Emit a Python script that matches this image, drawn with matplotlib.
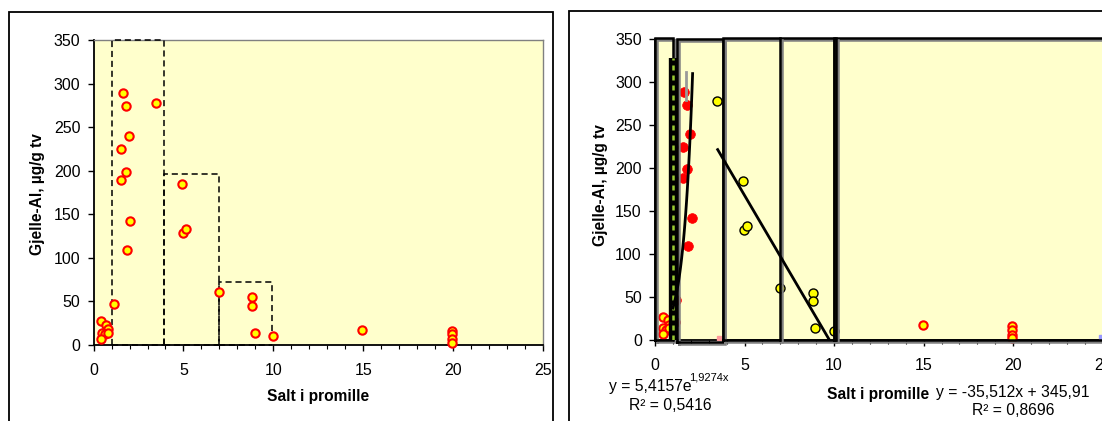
import numpy as np
import matplotlib
matplotlib.use("Agg")
import matplotlib.pyplot as plt
from matplotlib.patches import Rectangle
from matplotlib.ticker import MultipleLocator
import matplotlib.patheffects as pe

plt.rcParams['font.family'] = ['Liberation Sans', 'DejaVu Sans']

# ---------------- data ----------------
low_x = [0.42, 0.70, 0.80, 0.45, 0.62, 0.42, 0.78]
low_y = [27, 23, 18, 14, 12, 7, 14]

a_x = [1.15, 1.63, 1.79, 1.95, 1.55, 1.79, 1.55, 2.05, 1.87]
a_y = [47, 289, 274, 240, 225, 199, 189, 142, 109]
a_extra_x = [1.12]
a_extra_y = [21]

b_x = [3.48, 4.91, 4.99, 5.15, 6.98, 8.80, 8.80, 8.96, 10.0]
b_y = [278, 185, 128, 133, 61, 55, 45, 14, 10]

c_x = [14.94, 19.95, 19.95, 19.95, 19.95]
c_y = [17, 16, 12, 6, 2]

# dashed groups in left chart: (x0, x1, top)
left_boxes = [(1.0, 3.9, 350), (3.9, 7.0, 196), (7.0, 9.9, 72)]
# boxes in right chart: (x0, x1, bottom, top)
right_boxes = [(0.0, 1.02, 0, 352), (1.22, 3.82, -2, 350), (3.82, 10.0, 0, 352), (10.0, 26.0, 0, 352)]
right_vlines = [6.97, 10.1]

exp_a, exp_b = 5.4157, 1.9274
exp_range = (1.0, 2.1)
lin_m, lin_c = -35.512, 345.91
lin_range = (3.5, 9.74)

xticks = [0, 5, 10, 15, 20, 25]
yticks = [0, 50, 100, 150, 200, 250, 300, 350]

W, H = 1102, 421
fig = plt.figure(figsize=(W / 100, H / 100), dpi=100)
fig.patch.set_facecolor('white')

def fx(px):
    return px / W

def fy(py):
    return 1 - py / H

# panel frames
fig.patches.append(Rectangle((fx(8.6), fy(460)), fx(552.9 - 8.6), (460 - 12) / H,
                             transform=fig.transFigure, fill=False, ec='black', lw=1.3))
fig.patches.append(Rectangle((fx(569.3), fy(460)), fx(700), (460 - 10.7) / H,
                             transform=fig.transFigure, fill=False, ec='black', lw=1.3))

BG = '#FFFFCC'
TICKFS = 11.5
LABFS = 11.2
ANNFS = 11.3

def style_axes(ax):
    ax.set_xlim(0, 25)
    ax.set_ylim(0, 350)
    ax.set_facecolor(BG)
    ax.set_xticks(xticks)
    ax.set_yticks(yticks)
    ax.xaxis.set_minor_locator(MultipleLocator(1))
    ax.tick_params(axis='x', which='major', direction='out', length=4, width=1, pad=9, labelsize=TICKFS)
    ax.tick_params(axis='x', which='minor', direction='out', length=3, width=0.8)
    ax.tick_params(axis='y', which='major', direction='out', length=4, width=1, pad=5.5, labelsize=TICKFS)
    for s in ['left', 'bottom']:
        ax.spines[s].set_color('black')
        ax.spines[s].set_linewidth(1.3)
    for s in ['top', 'right']:
        ax.spines[s].set_color('#808080')
        ax.spines[s].set_linewidth(1.0)

# ---------------- left chart ----------------
ax1 = fig.add_axes([fx(93.6), fy(344.7), fx(542.9 - 93.6), (344.7 - 40.3) / H])
style_axes(ax1)
for x0, x1, top in left_boxes:
    ax1.plot([x0, x0, x1, x1], [0, top, top, 0], ls=(0, (4, 2.5)), color='black', lw=1.1,
             clip_on=False, zorder=3)
    ax1.plot([x0, x1], [0, 0], ls=(0, (4, 2.5)), color='black', lw=1.1, clip_on=False, zorder=3)

all_x = low_x + a_x + b_x + c_x
all_y = low_y + a_y + b_y + c_y
ax1.plot(all_x, all_y, 'o', ms=6, mfc='#FFFF00', mec='#FF0000', mew=1.5, clip_on=False, zorder=5)

fig.text(fx(37.5), fy(194), 'Gjelle-Al, µg/g tv', rotation=90, ha='center', va='center',
         fontsize=LABFS, fontweight='bold')
fig.text(fx(318.5), fy(396), 'Salt i promille', ha='center', va='center', fontsize=LABFS, fontweight='bold')

# ---------------- right chart ----------------
ax2 = fig.add_axes([fx(655), fy(340), fx(447.7), (340 - 39.3) / H])
style_axes(ax2)

shadow = [pe.SimpleLineShadow(offset=(1.5, -1.5), shadow_color='#808080', alpha=1.0), pe.Normal()]

ax2.plot(low_x + c_x, low_y + c_y, 'o', ms=6, mfc='#FFFF00', mec='#FF0000', mew=1.5,
         clip_on=False, zorder=3)
ax2.plot(a_x + a_extra_x, a_y + a_extra_y, 'o', ms=7, mfc='#FF0000', mec='#FF0000', mew=0.5,
         clip_on=False, zorder=3)
ax2.plot(b_x, b_y, 'o', ms=6.5, mfc='#FFFF00', mec='#000000', mew=1.0, clip_on=False, zorder=3)

for x0, x1, y0, y1 in right_boxes:
    ax2.plot([x0, x0, x1, x1, x0], [y0, y1, y1, y0, y0], color='black', lw=1.8,
             clip_on=False, zorder=4, path_effects=shadow, solid_joinstyle='miter')
for xv in right_vlines:
    ax2.plot([xv, xv], [0, 352], color='black', lw=1.8, clip_on=False, zorder=4, path_effects=shadow)

# thick dotted vertical line near x=1
ax2.plot([1.0, 1.0], [0, 328], color='black', lw=6, zorder=5, solid_capstyle='butt')
ax2.plot([1.0, 1.0], [0, 328], color='#9ACD32', lw=1.8, ls=(0, (2, 2)), zorder=6)

# trend lines (from the equations shown)
xe = np.linspace(exp_range[0], exp_range[1], 60)
ax2.plot(xe, exp_a * np.exp(exp_b * xe), color='black', lw=2, zorder=7)
ax2.plot([1.74, 1.74], [279, 312], color='#999999', lw=2, zorder=6)
xl = np.array(lin_range)
ax2.plot(xl, lin_m * xl + lin_c, color='black', lw=2, zorder=7)

# small stray markers
ax2.plot([3.57], [2], 's', ms=3, mfc='#FF9999', mec='#FF9999', clip_on=False, zorder=3)
ax2.plot([24.9], [4], 's', ms=3, mfc='#9999FF', mec='#9999FF', clip_on=False, zorder=3)

fig.text(fx(600), fy(185), 'Gjelle-Al, µg/g tv', rotation=90, ha='center', va='center',
         fontsize=LABFS, fontweight='bold')
fig.text(fx(878), fy(394), 'Salt i promille', ha='center', va='center', fontsize=LABFS, fontweight='bold')

fig.text(fx(609), fy(391), 'y = 5,4157e', ha='left', va='baseline', fontsize=ANNFS)
fig.text(fx(689.5), fy(381), '1,9274x', ha='left', va='baseline', fontsize=8)
fig.text(fx(670), fy(410), 'R² = 0,5416', ha='center', va='baseline', fontsize=ANNFS)
fig.text(fx(1013), fy(397), 'y = -35,512x + 345,91', ha='center', va='baseline', fontsize=ANNFS)
fig.text(fx(1013), fy(415), 'R² = 0,8696', ha='center', va='baseline', fontsize=ANNFS)

fig.savefig('out.png', dpi=100, facecolor='white')
